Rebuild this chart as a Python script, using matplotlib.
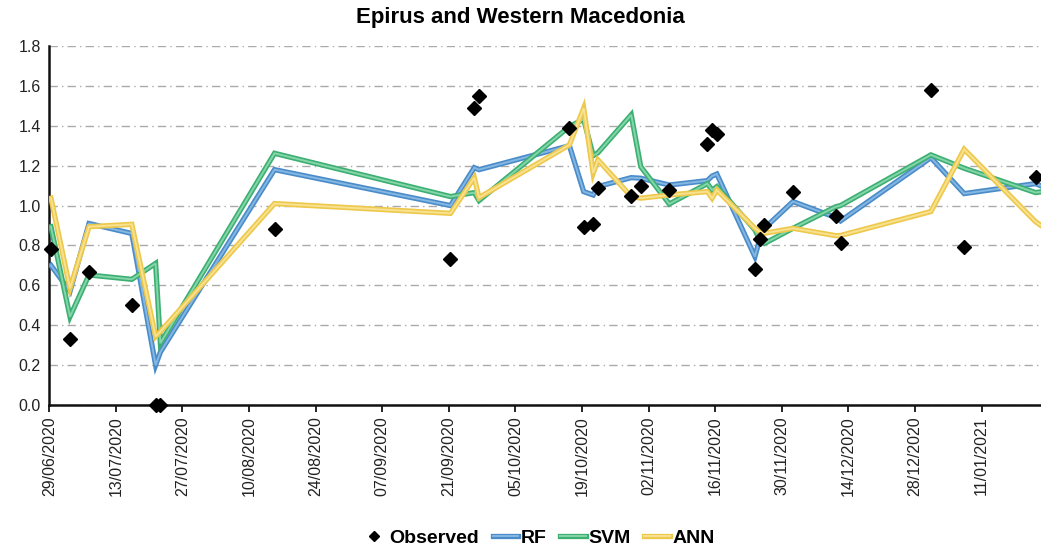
import matplotlib
matplotlib.use("Agg")
import matplotlib.pyplot as plt
import matplotlib.dates as mdates
import matplotlib.patheffects as pe
import numpy as np
import datetime as dt

plt.rcParams['font.family'] = ['Liberation Sans', 'DejaVu Sans']

start = dt.date(2020, 6, 29)
obs_days = [0, 4, 8, 17, 22, 23, 47, 84, 89, 90, 109, 112, 114, 115, 122, 124, 130,
            138, 139, 140, 148, 149, 150, 156, 165, 166, 185, 192, 207]
observed = [0.78, 0.33, 0.665, 0.50, 0.0, 0.0, 0.88, 0.73, 1.49, 1.55, 1.39, 0.89, 0.91,
            1.09, 1.05, 1.10, 1.08, 1.31, 1.38, 1.36, 0.68, 0.83, 0.90, 1.07, 0.95, 0.81,
            1.58, 0.79, 1.145]

model_days = obs_days + [208.5]
rf = [0.70, 0.57, 0.91, 0.86, 0.20, 0.265, 1.18, 1.00, 1.19, 1.18, 1.30, 1.07, 1.053,
      1.095, 1.14, 1.137, 1.103, 1.125, 1.148, 1.158, 0.744, 0.83, 0.886, 1.02, 0.94,
      0.923, 1.24, 1.06, 1.11, 1.095]
svm = [0.894, 0.443, 0.652, 0.63, 0.71, 0.31, 1.262, 1.045, 1.065, 1.025, 1.396, 1.433,
       1.25, 1.265, 1.455, 1.195, 1.008, 1.11, 1.078, 1.095, 0.878, 0.828, 0.81, 0.886,
       0.994, 1.00, 1.254, 1.187, 1.065, 1.07]
ann = [1.037, 0.585, 0.894, 0.906, 0.343, 0.368, 1.01, 0.961, 1.14, 1.04, 1.304, 1.488,
       1.162, 1.229, 1.045, 1.037, 1.053, 1.07, 1.037, 1.078, 0.886, 0.869, 0.861, 0.886,
       0.849, 0.85, 0.97, 1.282, 0.919, 0.894]

tick_days = list(range(0, 197, 14))
ytick_vals = [0.0, 0.2, 0.4, 0.6, 0.8, 1.0, 1.2, 1.4, 1.6, 1.8]

def to_dates(days):
    return [mdates.date2num(start) + d + 0.35 for d in days]

fig = plt.figure(figsize=(10.41, 5.52), dpi=100)
ax = fig.add_axes([49.3 / 1041, 1 - 405 / 552, 1 - 49.3 / 1041, (405 - 46) / 552])

x_obs = to_dates(obs_days)
x_mod = to_dates(model_days)

series = [("RF", rf, "#84B7E2", "#4A8CC9"),
          ("SVM", svm, "#84D6AA", "#3DAF72"),
          ("ANN", ann, "#F8E292", "#EDC84A")]
handles = []
obs_h, = ax.plot(x_obs, observed, linestyle='none', marker='D', markersize=7,
                 color='black', zorder=10, label='Observed', clip_on=False)
handles.append(obs_h)
for i, (name, vals, light, dark) in enumerate(series):
    h, = ax.plot(x_mod, vals, color=light, lw=1.4, zorder=3 + i, label=name,
                 solid_joinstyle='miter',
                 path_effects=[pe.Stroke(linewidth=3.8, foreground=dark), pe.Normal()])
    handles.append(h)

x0 = mdates.date2num(start)
ax.set_ylim(0, 1.8)
ax.set_xlim(x0, x0 + 208.5)
ax.set_yticks(ytick_vals)
ax.set_yticklabels([f"{v:.1f}" for v in ytick_vals], fontsize=11.5, color='#222222')
tick_pos = [x0 + d for d in tick_days]
ax.set_xticks(tick_pos)
ax.set_xticklabels([(start + dt.timedelta(days=d)).strftime("%d/%m/%Y") for d in tick_days],
                   rotation=90, fontsize=11.5, color='#222222')
ax.tick_params(axis='y', length=0, pad=6)
ax.tick_params(axis='x', length=5, width=1.2, direction='out', pad=3)

for s in ['top', 'right']:
    ax.spines[s].set_visible(False)
for s in ['left', 'bottom']:
    ax.spines[s].set_linewidth(1.8)
    ax.spines[s].set_color('#111111')

ax.yaxis.grid(True, linestyle=(0, (6, 3, 1, 3)), color='#AAAAAA', linewidth=1)
ax.set_axisbelow(True)

fig.text(0.5, 1 - 18 / 552, "Epirus and Western Macedonia", ha='center', va='center',
         fontsize=16, fontweight='bold')

leg = fig.legend(handles=handles, loc='center', bbox_to_anchor=(538 / 1041, 1 - 538 / 552),
                 ncol=4, frameon=False, prop={'weight': 'bold', 'size': 14},
                 handlelength=1.3, handletextpad=0.15, columnspacing=0.7, markerscale=0.75)

fig.savefig("out.png", dpi=100)
